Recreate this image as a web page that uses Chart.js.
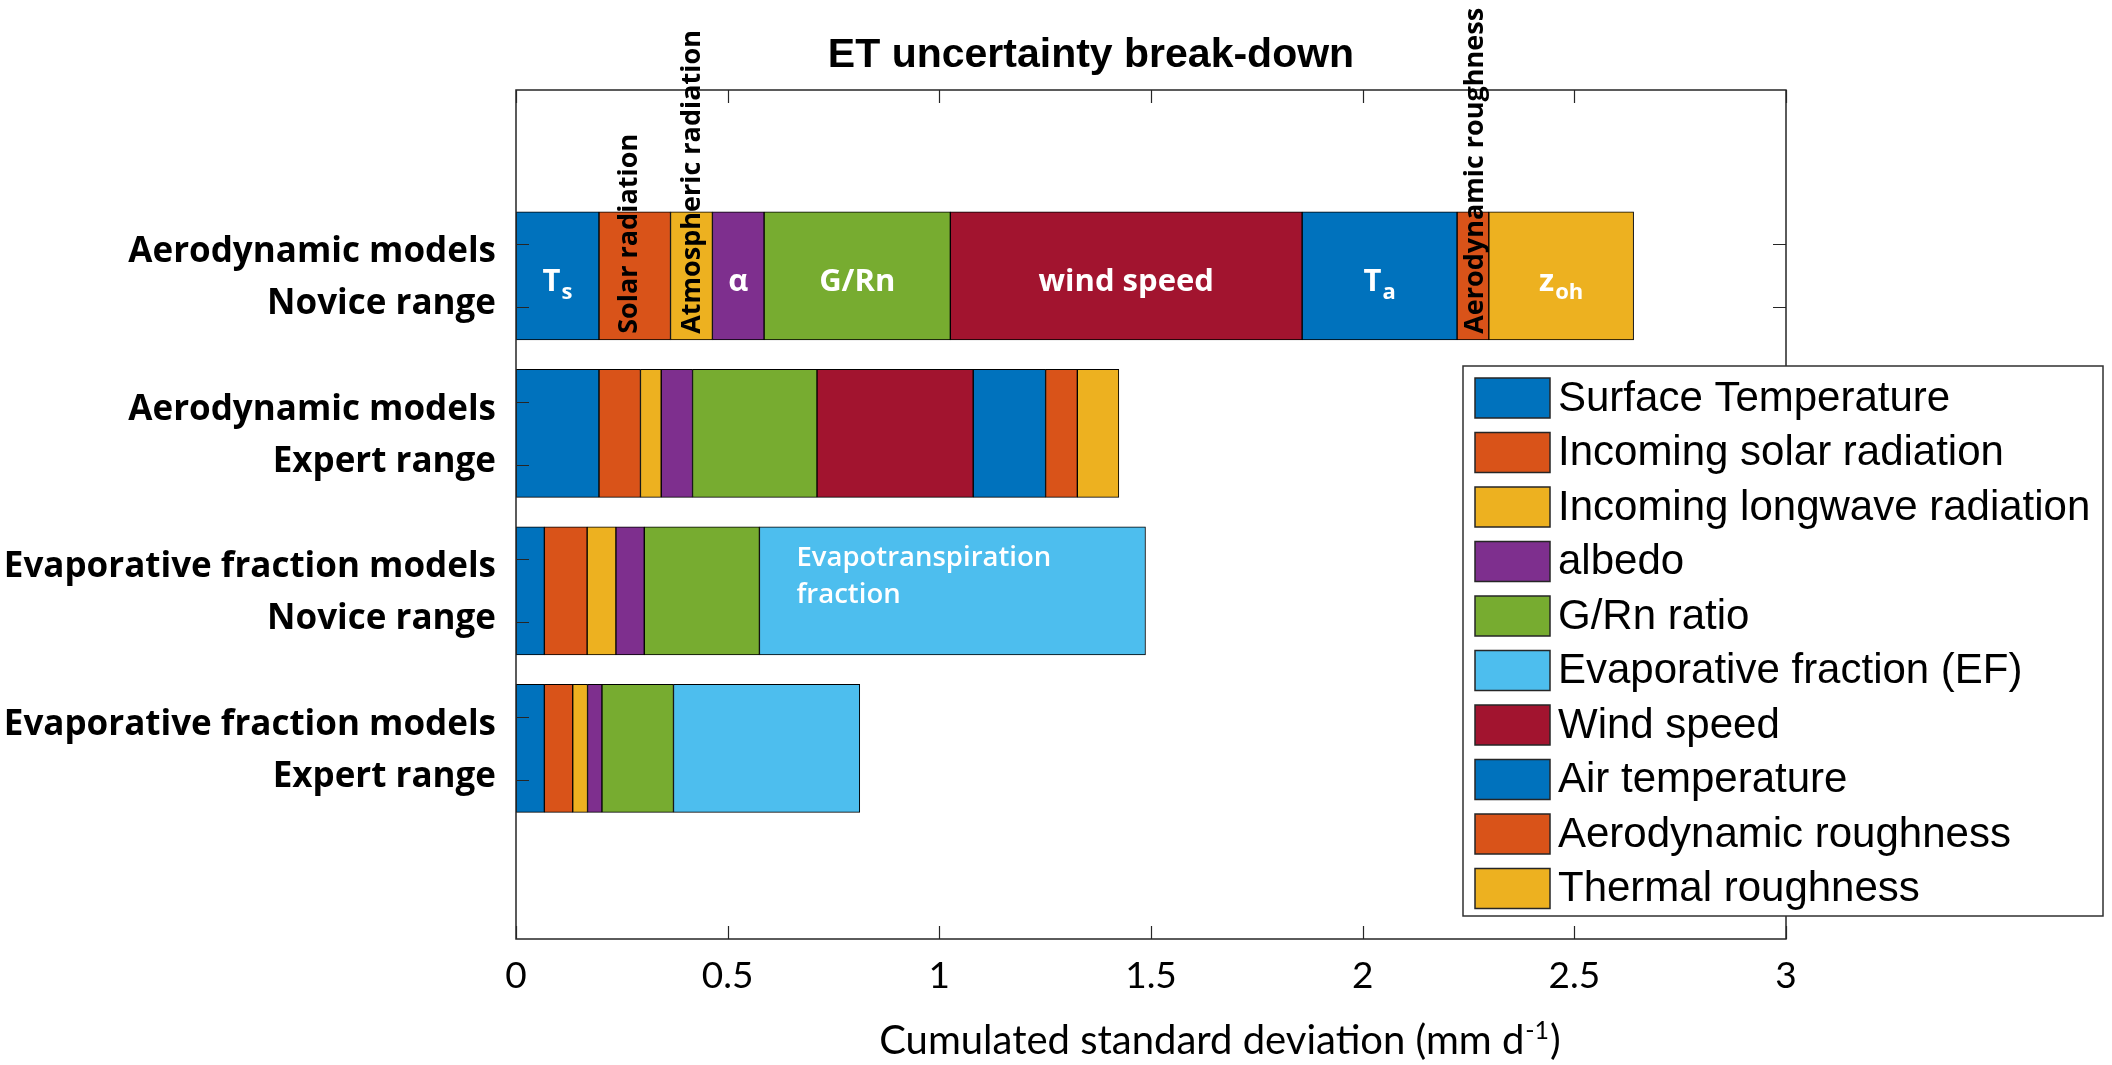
<!DOCTYPE html>
<html>
<head>
<meta charset="utf-8">
<title>ET uncertainty break-down</title>
<script src="https://cdn.jsdelivr.net/npm/chart.js@4.4.1/dist/chart.umd.min.js"></script>
<style>
  html, body { margin: 0; padding: 0; background: #ffffff; }
  canvas { display: block; }
</style>
</head>
<body>
<canvas id="chart" width="2112" height="1065" style="width:2112px;height:1065px"></canvas>
<script>
// ---- Data -------------------------------------------------------------
// Model groups, top to bottom (each label is drawn on two lines)
const categories = [
  ['Aerodynamic models', 'Novice range'],
  ['Aerodynamic models', 'Expert range'],
  ['Evaporative fraction models', 'Novice range'],
  ['Evaporative fraction models', 'Expert range']
];
const categoryPos = [1, 2, 3, 4];

// Contribution of each input to the cumulated standard deviation (mm/d)
const surfaceTemperature   = [0.196, 0.196, 0.067, 0.067];
const incomingSolar        = [0.169, 0.098, 0.101, 0.067];
const incomingLongwave     = [0.099, 0.049, 0.068, 0.035];
const albedo               = [0.122, 0.074, 0.067, 0.034];
const gRnRatio             = [0.440, 0.294, 0.272, 0.169];
const evaporativeFraction  = [null,  null,  0.912, 0.440];
const windSpeed            = [0.831, 0.369, null,  null];
const airTemperature       = [0.366, 0.171, null,  null];
const aerodynamicRoughness = [0.075, 0.075, null,  null];
const thermalRoughness     = [0.342, 0.098, null,  null];

const seriesNames = [
  'Surface Temperature', 'Incoming solar radiation', 'Incoming longwave radiation',
  'albedo', 'G/Rn ratio', 'Evaporative fraction (EF)', 'Wind speed',
  'Air temperature', 'Aerodynamic roughness', 'Thermal roughness'
];
const seriesValues = [
  surfaceTemperature, incomingSolar, incomingLongwave, albedo, gRnRatio,
  evaporativeFraction, windSpeed, airTemperature, aerodynamicRoughness, thermalRoughness
];
const seriesColors = [
  '#0072BD', '#D95319', '#EDB120', '#7E2F8E', '#77AC30',
  '#4DBEEE', '#A2142F', '#0072BD', '#D95319', '#EDB120'
];

const xTickValues = [0, 0.5, 1, 1.5, 2, 2.5, 3];
const xTickLabels = ['0', '0.5', '1', '1.5', '2', '2.5', '3'];
const yTickLabels = categories.flat();

const chartTitle = 'ET uncertainty break-down';
const xAxisTitle = ['Cumulated standard deviation (mm d', '-1', ')'];

// Annotations written on the segments: [category, series, text, subscript]
const segmentNotes = [
  [0, 0, 'T', 's'],
  [0, 3, 'α', ''],
  [0, 4, 'G/Rn', ''],
  [0, 6, 'wind speed', ''],
  [0, 7, 'T', 'a'],
  [0, 9, 'z', 'oh']
];
// Vertical annotations: [category, series, text]
const verticalNotes = [
  [0, 1, 'Solar radiation'],
  [0, 2, 'Atmospheric radiation'],
  [0, 8, 'Aerodynamic roughness']
];
// Multi-line annotation: [category, series, lines]
const blockNote = [2, 5, ['Evapotranspiration', 'fraction']];

// ---- Styling constants ------------------------------------------------
const AXIS_COLOR = '#262626';
const TICK_LEN = 13;
const Y_MIN = -0.18, Y_MAX = 5.21;
const Y_LABEL_OFFSETS = [-0.15, 0.18];   // label lines relative to each bar centre
const Y_TICK_OFFSET = 0.2;               // tick marks above/below each bar centre
const VERTICAL_NOTE_SHIFT = [2, 9, 10];  // baseline shift (px) from segment centre

// ---- Datasets ---------------------------------------------------------
const datasets = seriesNames.map((name, s) => {
  const points = [];
  seriesValues[s].forEach((v, c) => {
    if (v !== null) points.push({ x: v, y: categoryPos[c] });
  });
  return {
    label: name,
    data: points,
    backgroundColor: seriesColors[s],
    borderColor: '#000000',
    borderWidth: 1,
    borderSkipped: false,
    barThickness: 128,
    stack: 'total'
  };
});

function segmentElement(chart, c, s) {
  const ds = chart.data.datasets[s];
  const k = ds.data.findIndex(p => p.y === categoryPos[c]);
  return k < 0 ? null : chart.getDatasetMeta(s).data[k];
}

// ---- Plugin: frame, inward ticks, annotations, legend, titles ---------
const decorations = {
  id: 'decorations',
  afterDatasetsDraw(chart) {
    const { ctx, chartArea: a, scales: { x, y } } = chart;
    ctx.save();

    // axes box with inward tick marks on all four sides
    ctx.strokeStyle = AXIS_COLOR;
    ctx.lineWidth = 1.5;
    ctx.strokeRect(a.left, a.top, a.right - a.left, a.bottom - a.top);
    ctx.lineWidth = 1.2;
    ctx.beginPath();
    xTickValues.forEach(v => {
      const px = Math.round(x.getPixelForValue(v)) + 0.5;
      ctx.moveTo(px, a.bottom); ctx.lineTo(px, a.bottom - TICK_LEN);
      ctx.moveTo(px, a.top);    ctx.lineTo(px, a.top + TICK_LEN);
    });
    categoryPos.forEach(p => {
      [-Y_TICK_OFFSET, Y_TICK_OFFSET].forEach(d => {
        const py = Math.round(y.getPixelForValue(p + d)) + 0.5;
        ctx.moveTo(a.left, py);  ctx.lineTo(a.left + TICK_LEN, py);
        ctx.moveTo(a.right, py); ctx.lineTo(a.right - TICK_LEN, py);
      });
    });
    ctx.stroke();

    // white labels inside segments
    ctx.fillStyle = '#ffffff';
    ctx.textBaseline = 'alphabetic';
    segmentNotes.forEach(([c, s, main, sub]) => {
      const el = segmentElement(chart, c, s);
      if (!el) return;
      const cx = (el.x + el.base) / 2;
      const mainFont = 'bold 31px "Open Sans"';
      const subFont = 'bold 22px "Open Sans"';
      ctx.font = mainFont;
      const wMain = ctx.measureText(main).width;
      ctx.font = subFont;
      const wSub = sub ? ctx.measureText(sub).width + 1 : 0;
      const left = cx - (wMain + wSub) / 2;
      const base = el.y + 15;
      ctx.textAlign = 'left';
      ctx.font = mainFont;
      ctx.fillText(main, left, base);
      if (sub) {
        ctx.font = subFont;
        ctx.fillText(sub, left + wMain + 1, base + 8);
      }
    });

    // multi-line label in the evaporative fraction segment
    {
      const [c, s, lines] = blockNote;
      const el = segmentElement(chart, c, s);
      if (el) {
        ctx.font = '600 27.5px "Open Sans"';
        ctx.textAlign = 'left';
        ctx.textBaseline = 'middle';
        lines.forEach((t, i) => ctx.fillText(t, el.base + 37, el.y - 33 + i * 37));
      }
    }

    // black vertical labels rising from the bottom of narrow segments
    ctx.fillStyle = '#000000';
    ctx.font = 'bold 27px "Open Sans"';
    ctx.textAlign = 'left';
    ctx.textBaseline = 'alphabetic';
    verticalNotes.forEach(([c, s, text], i) => {
      const el = segmentElement(chart, c, s);
      if (!el) return;
      const cx = (el.x + el.base) / 2;
      const bottom = el.y + el.height / 2 - 6;
      ctx.save();
      ctx.translate(cx + VERTICAL_NOTE_SHIFT[i], bottom);
      ctx.rotate(-Math.PI / 2);
      ctx.fillText(text, 0, 0);
      ctx.restore();
    });

    ctx.restore();
  },
  afterDraw(chart) {
    const { ctx } = chart;
    ctx.save();

    // title
    ctx.fillStyle = '#000000';
    ctx.font = 'bold 41px "Liberation Sans"';
    ctx.textAlign = 'center';
    ctx.textBaseline = 'alphabetic';
    ctx.fillText(chartTitle, 1091, 67);

    // x axis title with superscript
    ctx.textBaseline = 'alphabetic';
    ctx.textAlign = 'left';
    const bigFont = '40px Lato', supFont = '25px Lato';
    ctx.font = bigFont;
    const w0 = ctx.measureText(xAxisTitle[0]).width;
    const w2 = ctx.measureText(xAxisTitle[2]).width;
    ctx.font = supFont;
    const w1 = ctx.measureText(xAxisTitle[1]).width;
    const total = w0 + w1 + w2;
    const tx = 1219 - total / 2;
    const ty = 1054;
    ctx.font = bigFont;
    ctx.fillText(xAxisTitle[0], tx, ty);
    ctx.font = supFont;
    ctx.fillText(xAxisTitle[1], tx + w0 + 1, ty - 15);
    ctx.font = bigFont;
    ctx.fillText(xAxisTitle[2], tx + w0 + w1 + 2, ty);

    // legend box
    const L = { left: 1463, top: 366, right: 2103, bottom: 916 };
    ctx.fillStyle = '#ffffff';
    ctx.fillRect(L.left, L.top, L.right - L.left, L.bottom - L.top);
    ctx.strokeStyle = '#303030';
    ctx.lineWidth = 1.5;
    ctx.strokeRect(L.left, L.top, L.right - L.left, L.bottom - L.top);
    ctx.font = '42px "Liberation Sans"';
    ctx.textBaseline = 'middle';
    ctx.textAlign = 'left';
    chart.data.datasets.forEach((ds, i) => {
      const top = 378 + i * 54.5;
      ctx.fillStyle = ds.backgroundColor;
      ctx.fillRect(1475, top, 75, 40);
      ctx.strokeStyle = '#262626';
      ctx.lineWidth = 1.5;
      ctx.strokeRect(1475, top, 75, 40);
      ctx.fillStyle = '#000000';
      ctx.fillText(ds.label, 1558, top + 21);
    });

    ctx.restore();
  }
};

// ---- Chart ------------------------------------------------------------
new Chart(document.getElementById('chart'), {
  type: 'bar',
  data: { datasets },
  options: {
    indexAxis: 'y',
    responsive: false,
    animation: false,
    events: [],
    layout: { padding: { top: 90, right: 326, bottom: 0, left: 0 } },
    scales: {
      x: {
        type: 'linear',
        stacked: true,
        bounds: 'data',
        offset: false,
        min: 0,
        max: 3,
        afterBuildTicks: scale => { scale.ticks = xTickValues.map(v => ({ value: v })); },
        afterFit: scale => { scale.height = 126; },
        grid: { display: false, drawTicks: false },
        border: { display: false },
        ticks: {
          autoSkip: false,
          maxRotation: 0,
          padding: 15,
          color: '#000000',
          font: { family: 'Lato', size: 37 },
          callback: (v, i) => xTickLabels[i]
        }
      },
      y: {
        type: 'linear',
        stacked: true,
        reverse: true,
        bounds: 'data',
        offset: false,
        min: Y_MIN,
        max: Y_MAX,
        afterBuildTicks: scale => {
          scale.ticks = categoryPos.flatMap(p => Y_LABEL_OFFSETS.map(d => p + d)).map(v => ({ value: v }));
        },
        afterFit: scale => { scale.width = 516; },
        grid: { display: false, drawTicks: false, offset: false },
        border: { display: false },
        ticks: {
          autoSkip: false,
          padding: 20,
          color: '#000000',
          font: { family: 'Open Sans', size: 35, weight: 'bold' },
          callback: (v, i) => yTickLabels[i]
        }
      }
    },
    plugins: {
      legend: { display: false },
      tooltip: { enabled: false },
      title: { display: false }
    }
  },
  plugins: [decorations]
});
</script>
</body>
</html>
